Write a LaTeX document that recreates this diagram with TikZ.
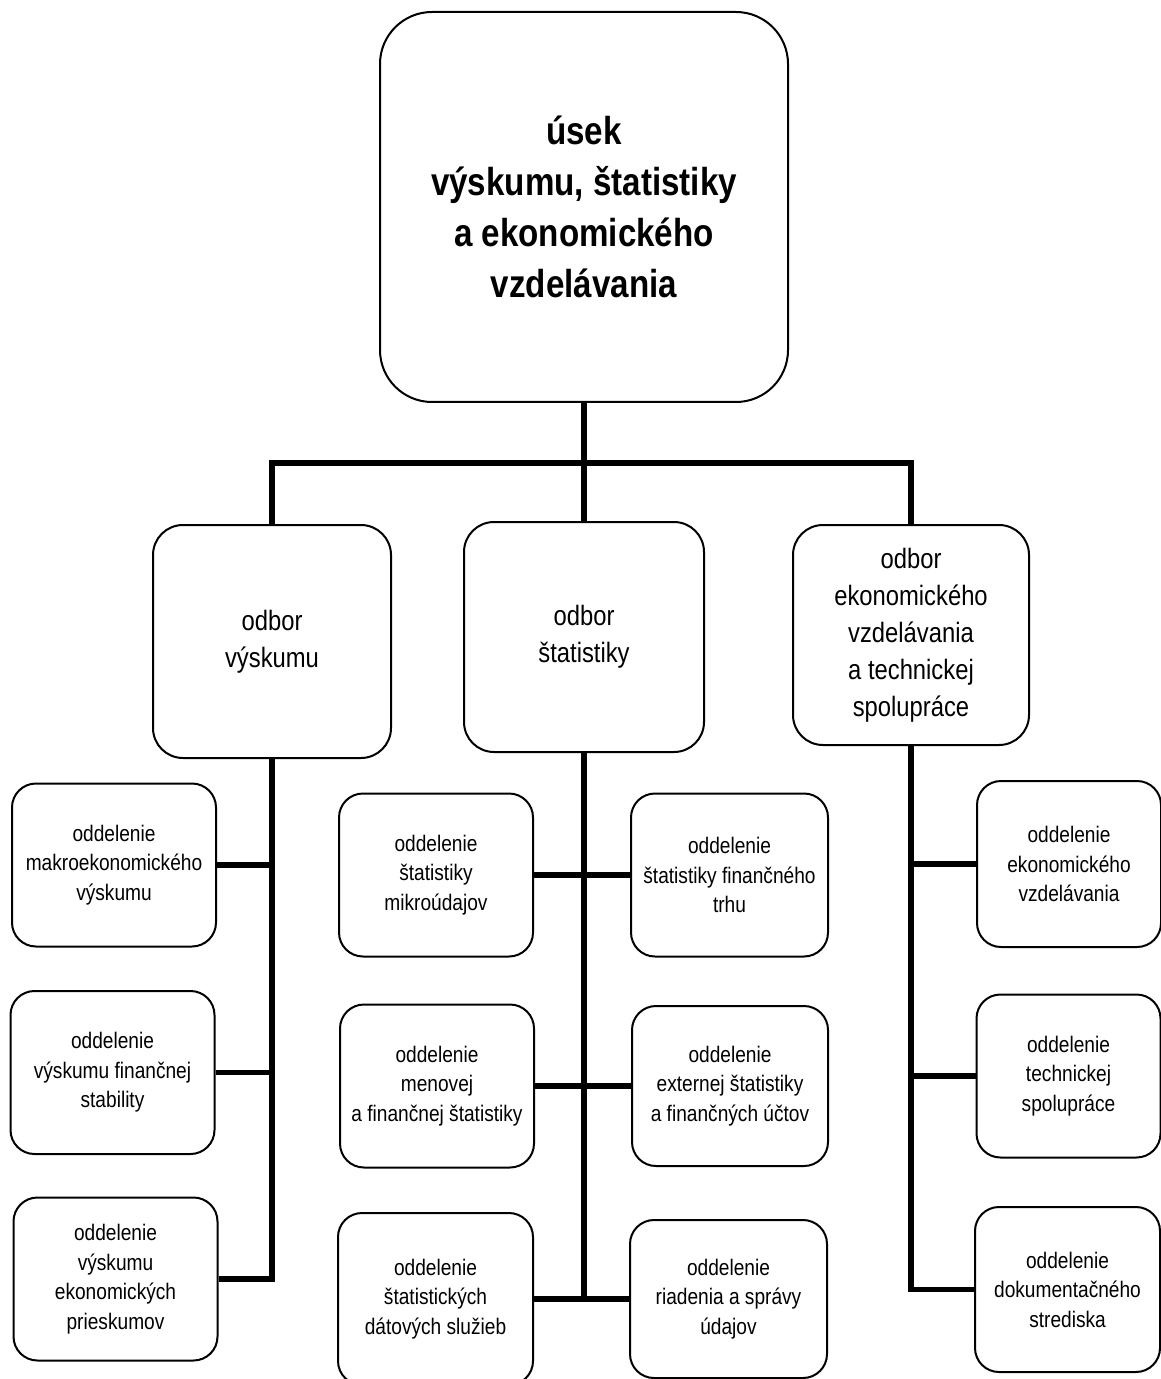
\documentclass[tikz,border=0pt]{standalone}
\usepackage{fontspec}
\setmainfont[FakeStretch=0.85]{Liberation Sans}
\usetikzlibrary{positioning, calc}

\begin{document}
\begin{tikzpicture}[
    x=0.5pt, y=-0.5pt,
    % --- node styles ---
    sectionbox/.style={
        rectangle, rounded corners=26pt, minimum width=204pt, minimum height=195pt,
        align=center, draw=black, line width=1pt,
        font=\fontsize{19.5}{25.5}\selectfont\bfseries
    },
    deptbox/.style={
        rectangle, rounded corners=15pt, minimum width=119pt, minimum height=115pt,
        align=center, draw=black, line width=1pt,
        font=\fontsize{14}{18.5}\selectfont
    },
    unitbox/.style={
        rectangle, rounded corners=12pt, minimum width=102pt, minimum height=81.5pt,
        align=center, draw=black, line width=1pt, inner sep=2pt,
        font=\fontsize{11.25}{14.75}\selectfont
    },
    link/.style={line width=2.8pt},
]
\useasboundingbox (0,0) rectangle (1160,1379);

% ===== SECTION =====
\node[sectionbox] (usek) at (584,207)
    {úsek\\výskumu, štatistiky\\a ekonomického\\vzdelávania};
\coordinate (bus) at (584,463);
\draw[link] (usek) -- (bus);

% ===== DEPARTMENTS =====
\node[deptbox, minimum height=116.5pt] (vyskum) at (272,641.5) {odbor\\výskumu};
\node[deptbox, minimum width=120pt] (statist) at (584,637) {odbor\\štatistiky};
\node[deptbox, minimum width=118pt, minimum height=110pt] (ekon) at (911,635)
    {odbor\\ekonomického\\vzdelávania\\a technickej\\spolupráce};
\draw[link] (bus) -| (vyskum.north);
\draw[link] (bus) -- (statist.north);
\draw[link] (bus) -| (ekon.north);

% ===== ODBOR VYSKUMU =====
\node[unitbox] (makro) at (114,865) {oddelenie\\makroekonomického\\výskumu};
\node[unitbox] (finstab) at (112.5,1072.5) {oddelenie\\výskumu finančnej\\stability};
\node[unitbox] (priesk) at (115.5,1279) {oddelenie\\výskumu\\ekonomických\\prieskumov};
\draw[link] (vyskum.south) |- (priesk.east);
\draw[link] (makro.east) -- (makro.east -| vyskum.south);
\draw[link] (finstab.east) -- (finstab.east -| vyskum.south);

% ===== ODBOR STATISTIKY =====
\node[unitbox, minimum width=97pt] (mikro) at (436,875) {oddelenie\\štatistiky\\mikroúdajov};
\node[unitbox, minimum width=98.5pt] (fintrh) at (729.5,875) {oddelenie\\štatistiky finančného\\trhu};
\node[unitbox, minimum width=97pt] (menova) at (437,1086) {oddelenie\\menovej\\a finančnej štatistiky};
\node[unitbox, minimum width=98pt, minimum height=80pt] (externa) at (730,1086)
    {oddelenie\\externej štatistiky\\a finančných účtov};
\node[unitbox, minimum width=97.5pt, minimum height=86pt] (datove) at (435.5,1299)
    {oddelenie\\štatistických\\dátových služieb};
\node[unitbox, minimum width=98.5pt, minimum height=79pt] (riadenie) at (728.5,1299)
    {oddelenie\\riadenia a správy\\údajov};
\draw[link] (statist.south) -- (statist.south |- datove.east);
\draw[link] (mikro.east) -- (fintrh.west);
\draw[link] (menova.east) -- (externa.west);
\draw[link] (datove.east) -- (riadenie.west);

% ===== ODBOR EKONOMICKEHO VZDELAVANIA =====
\node[unitbox, minimum width=92pt, minimum height=83pt] (vzdel) at (1069,864)
    {oddelenie\\ekonomického\\vzdelávania};
\node[unitbox, minimum width=92pt] (tech) at (1068.5,1076) {oddelenie\\technickej\\spolupráce};
\node[unitbox, minimum width=92.5pt, minimum height=82.5pt] (dokum) at (1067.5,1289.5)
    {oddelenie\\dokumentačného\\strediska};
\draw[link] (ekon.south) |- (dokum.west);
\draw[link] (vzdel.west) -- (vzdel.west -| ekon.south);
\draw[link] (tech.west) -- (tech.west -| ekon.south);

\end{tikzpicture}
\end{document}
